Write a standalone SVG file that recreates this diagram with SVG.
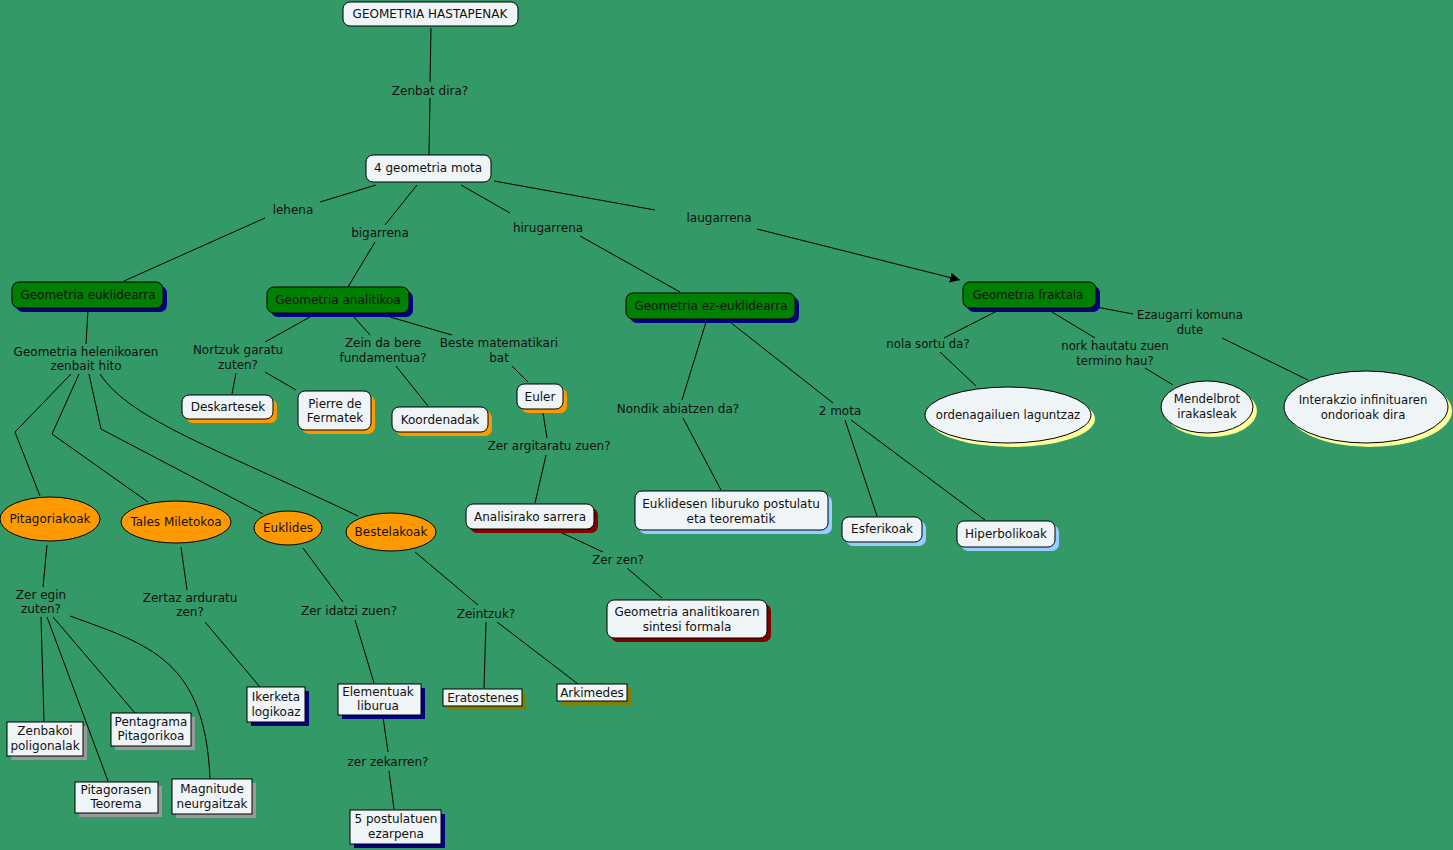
<svg xmlns="http://www.w3.org/2000/svg" width="1453" height="850" viewBox="0 0 1453 850">
<defs>
<style>
text{font-family:"DejaVu Sans",Verdana,sans-serif;font-size:12px;fill:#111;text-anchor:middle}
.tah{font-family:"DejaVu Sans Condensed","DejaVu Sans",sans-serif;font-size:13px}
.lt{fill:#eff4f7;stroke:#000;stroke-width:1}
.dg{fill:#008000;stroke:#000;stroke-width:1}
.or{fill:#ff9900;stroke:#000;stroke-width:1}
.c line,.c path,.c polyline{stroke:#000;stroke-width:1;fill:none}
.s-navy{fill:#000080}.s-or{fill:#ff9900}.s-red{fill:#800000}.s-blue{fill:#99ccff}.s-yel{fill:#ffff99}.s-gray{fill:#999}.s-ol{fill:#808000}
</style>
<marker id="arr" viewBox="0 0 10 10" refX="10" refY="5" markerWidth="10" markerHeight="10" markerUnits="userSpaceOnUse" orient="auto"><path d="M0,0L10,5L0,10z" fill="#000"/></marker>
</defs>
<rect width="1453" height="850" fill="#339966"/>
<g class="c" id="connectors">
<line x1="431" y1="28" x2="430" y2="82"/><line x1="430" y1="98" x2="429" y2="155"/>
<line x1="376" y1="185" x2="320" y2="202"/><line x1="265" y1="218" x2="124" y2="281"/>
<line x1="417" y1="185" x2="385" y2="225"/><line x1="375" y1="242" x2="348" y2="287"/>
<line x1="461" y1="185" x2="510" y2="213"/><line x1="580" y1="236" x2="680" y2="292"/>
<line x1="494" y1="181" x2="655" y2="210"/><line x1="757" y1="229" x2="960" y2="280" marker-end="url(#arr)"/>
<line x1="88" y1="310" x2="86" y2="344"/>
<polyline points="71,374 15,432 40,496"/>
<polyline points="79,374 52,434 148,502"/>
<polyline points="89,374 101,429 263,514"/>
<path d="M100,374 C130,420 220,450 358,516"/>
<line x1="47" y1="545" x2="43" y2="587"/>
<line x1="41" y1="617" x2="44" y2="721"/>
<line x1="47" y1="617" x2="108" y2="781"/>
<line x1="53" y1="617" x2="135" y2="713"/>
<path d="M70,616 C150,645 205,660 210,779"/>
<line x1="181" y1="547" x2="187" y2="590"/><line x1="205" y1="622" x2="260" y2="687"/>
<line x1="303" y1="548" x2="343" y2="602"/><line x1="355" y1="620" x2="374" y2="683"/>
<line x1="383" y1="717" x2="388" y2="752"/><line x1="389" y1="771" x2="394" y2="809"/>
<line x1="415" y1="552" x2="478" y2="605"/>
<line x1="486" y1="622" x2="484" y2="688"/><line x1="497" y1="622" x2="578" y2="684"/>
<line x1="310" y1="317" x2="265" y2="342"/><line x1="236" y1="373" x2="232" y2="394"/><line x1="265" y1="372" x2="296" y2="390"/>
<line x1="353" y1="316" x2="370" y2="335"/><line x1="396" y1="366" x2="428" y2="406"/>
<line x1="390" y1="317" x2="452" y2="335"/><line x1="512" y1="366" x2="528" y2="382"/>
<line x1="543" y1="413" x2="547" y2="438"/><line x1="546" y1="455" x2="535" y2="503"/>
<line x1="560" y1="532" x2="603" y2="552"/><line x1="627" y1="568" x2="662" y2="598"/>
<line x1="706" y1="322" x2="682" y2="400"/><line x1="683" y1="418" x2="721" y2="490"/>
<line x1="730" y1="322" x2="833" y2="403"/><line x1="845" y1="420" x2="877" y2="516"/><line x1="851" y1="420" x2="985" y2="520"/>
<line x1="997" y1="311" x2="944" y2="338"/><line x1="940" y1="352" x2="976" y2="386"/>
<line x1="1052" y1="312" x2="1095" y2="338"/><line x1="1145" y1="368" x2="1173" y2="385"/>
<line x1="1096" y1="307" x2="1133" y2="314"/><line x1="1222" y1="338" x2="1308" y2="380"/>
</g>
<g id="labels">
<text x="430" y="95">Zenbat dira?</text>
<text x="293" y="214">lehena</text>
<text x="380" y="237">bigarrena</text>
<text x="548" y="232">hirugarrena</text>
<text x="719" y="222">laugarrena</text>
<text x="86" y="356">Geometria helenikoaren</text><text x="86" y="370">zenbait hito</text>
<text x="41" y="599">Zer egin</text><text x="41" y="613">zuten?</text>
<text x="190" y="602">Zertaz arduratu</text><text x="190" y="616">zen?</text>
<text x="349" y="615">Zer idatzi zuen?</text>
<text x="388" y="766">zer zekarren?</text>
<text x="486" y="618">Zeintzuk?</text>
<text x="238" y="354">Nortzuk garatu</text><text x="238" y="369">zuten?</text>
<text x="383" y="347">Zein da bere</text><text x="383" y="362">fundamentua?</text>
<text x="499" y="347">Beste matematikari</text><text x="499" y="362">bat</text>
<text x="549" y="450">Zer argitaratu zuen?</text>
<text x="618" y="564">Zer zen?</text>
<text x="678" y="413">Nondik abiatzen da?</text>
<text x="840" y="415">2 mota</text>
<text class="tah" x="928" y="348">nola sortu da?</text>
<text class="tah" x="1115" y="350">nork hautatu zuen</text><text class="tah" x="1115" y="365">termino hau?</text>
<text class="tah" x="1190" y="319">Ezaugarri komuna</text><text class="tah" x="1190" y="334">dute</text>
</g>
<g id="n-hastapenak"><rect class="lt" x="343" y="2" width="175" height="24" rx="7"/><text x="430" y="18">GEOMETRIA HASTAPENAK</text></g>
<g id="n-mota"><rect class="lt" x="366" y="155" width="125" height="27" rx="7"/><text x="428" y="172">4 geometria mota</text></g>
<g id="n-euklidearra"><rect class="s-navy" x="16" y="286" width="151" height="26" rx="7"/><rect class="dg" x="12" y="282" width="151" height="26" rx="7"/><text x="88" y="299">Geometria euklidearra</text></g>
<g id="n-analitikoa"><rect class="s-navy" x="271" y="291" width="142" height="26" rx="7"/><rect class="dg" x="267" y="287" width="142" height="26" rx="7"/><text x="338" y="304">Geometria analitikoa</text></g>
<g id="n-ezeuklidearra"><rect class="s-navy" x="630" y="297" width="169" height="26" rx="7"/><rect class="dg" x="626" y="293" width="169" height="26" rx="7"/><text x="711" y="310">Geometria ez-euklidearra</text></g>
<g id="n-fraktala"><rect class="s-navy" x="967" y="286" width="133" height="26" rx="7"/><rect class="dg" x="963" y="282" width="133" height="26" rx="7"/><text class="tah" x="1028" y="299">Geometria fraktala</text></g>
<g id="n-pitagoriakoak"><ellipse class="or" cx="50" cy="519" rx="50" ry="22"/><text x="50" y="523">Pitagoriakoak</text></g>
<g id="n-tales"><ellipse class="or" cx="176" cy="522" rx="55" ry="21"/><text x="176" y="526">Tales Miletokoa</text></g>
<g id="n-euklides"><ellipse class="or" cx="288" cy="528" rx="34" ry="17"/><text x="288" y="532">Euklides</text></g>
<g id="n-bestelakoak"><ellipse class="or" cx="391" cy="532" rx="45" ry="19"/><text x="391" y="536">Bestelakoak</text></g>
<g id="n-zenbakoi"><rect class="s-gray" x="11" y="726" width="76" height="34"/><rect class="lt" x="7" y="722" width="76" height="34"/><text x="45" y="735">Zenbakoi</text><text x="45" y="750">poligonalak</text></g>
<g id="n-pitagorasen"><rect class="s-gray" x="79" y="786" width="83" height="31"/><rect class="lt" x="75" y="782" width="83" height="31"/><text x="116" y="794">Pitagorasen</text><text x="116" y="808">Teorema</text></g>
<g id="n-pentagrama"><rect class="s-gray" x="115" y="717" width="80" height="33"/><rect class="lt" x="111" y="713" width="80" height="33"/><text x="151" y="726">Pentagrama</text><text x="151" y="740">Pitagorikoa</text></g>
<g id="n-magnitude"><rect class="s-gray" x="176" y="783" width="80" height="35"/><rect class="lt" x="172" y="779" width="80" height="35"/><text x="212" y="793">Magnitude</text><text x="212" y="808">neurgaitzak</text></g>
<g id="n-ikerketa"><rect class="s-navy" x="251" y="691" width="58" height="35"/><rect class="lt" x="247" y="687" width="58" height="35"/><text x="276" y="701">Ikerketa</text><text x="276" y="716">logikoaz</text></g>
<g id="n-elementuak"><rect class="s-navy" x="342" y="688" width="83" height="31"/><rect class="lt" x="338" y="684" width="83" height="31"/><text x="378" y="696">Elementuak</text><text x="378" y="710">liburua</text></g>
<g id="n-postulatuen"><rect class="s-navy" x="354" y="814" width="91" height="34"/><rect class="lt" x="350" y="810" width="91" height="34"/><text x="396" y="823">5 postulatuen</text><text x="396" y="838">ezarpena</text></g>
<g id="n-eratostenes"><rect class="s-ol" x="447" y="693" width="79" height="17"/><rect class="lt" x="443" y="689" width="79" height="17"/><text x="483" y="702">Eratostenes</text></g>
<g id="n-arkimedes"><rect class="s-ol" x="561" y="688" width="70" height="17"/><rect class="lt" x="557" y="684" width="70" height="17"/><text x="592" y="697">Arkimedes</text></g>
<g id="n-deskartesek"><rect class="s-or" x="186" y="399" width="91" height="24" rx="7"/><rect class="lt" x="182" y="395" width="91" height="24" rx="7"/><text x="228" y="411">Deskartesek</text></g>
<g id="n-pierre"><rect class="s-or" x="302" y="395" width="73" height="39" rx="7"/><rect class="lt" x="298" y="391" width="73" height="39" rx="7"/><text x="335" y="408">Pierre de</text><text x="335" y="422">Fermatek</text></g>
<g id="n-koordenadak"><rect class="s-or" x="396" y="411" width="96" height="25" rx="7"/><rect class="lt" x="392" y="407" width="96" height="25" rx="7"/><text x="440" y="424">Koordenadak</text></g>
<g id="n-euler"><rect class="s-or" x="521" y="388" width="46" height="25" rx="7"/><rect class="lt" x="517" y="384" width="46" height="25" rx="7"/><text x="540" y="401">Euler</text></g>
<g id="n-analisirako"><rect class="s-red" x="470" y="508" width="128" height="25" rx="7"/><rect class="lt" x="466" y="504" width="128" height="25" rx="7"/><text x="530" y="521">Analisirako sarrera</text></g>
<g id="n-sintesi"><rect class="s-red" x="611" y="604" width="160" height="38" rx="7"/><rect class="lt" x="607" y="600" width="160" height="38" rx="7"/><text x="687" y="616">Geometria analitikoaren</text><text x="687" y="631">sintesi formala</text></g>
<g id="n-euklidesen"><rect class="s-blue" x="639" y="495" width="193" height="39" rx="7"/><rect class="lt" x="635" y="491" width="193" height="39" rx="7"/><text x="731" y="508">Euklidesen liburuko postulatu</text><text x="731" y="523">eta teorematik</text></g>
<g id="n-esferikoak"><rect class="s-blue" x="846" y="521" width="80" height="25" rx="7"/><rect class="lt" x="842" y="517" width="80" height="25" rx="7"/><text x="882" y="533">Esferikoak</text></g>
<g id="n-hiperbolikoak"><rect class="s-blue" x="961" y="525" width="98" height="26" rx="7"/><rect class="lt" x="957" y="521" width="98" height="26" rx="7"/><text x="1006" y="538">Hiperbolikoak</text></g>
<g id="n-ordenagailuen"><ellipse class="s-yel" cx="1012" cy="419" rx="83" ry="28"/><ellipse class="lt" cx="1008" cy="415" rx="83" ry="28"/><text class="tah" x="1008" y="419">ordenagailuen laguntzaz</text></g>
<g id="n-mendelbrot"><ellipse class="s-yel" cx="1211" cy="411" rx="46" ry="26"/><ellipse class="lt" cx="1207" cy="407" rx="46" ry="26"/><text class="tah" x="1207" y="403">Mendelbrot</text><text class="tah" x="1207" y="418">irakasleak</text></g>
<g id="n-interakzio"><ellipse class="s-yel" cx="1370" cy="411" rx="82" ry="36"/><ellipse class="lt" cx="1366" cy="407" rx="82" ry="36"/><text class="tah" x="1363" y="404">Interakzio infinituaren</text><text class="tah" x="1363" y="419">ondorioak dira</text></g>
</svg>
